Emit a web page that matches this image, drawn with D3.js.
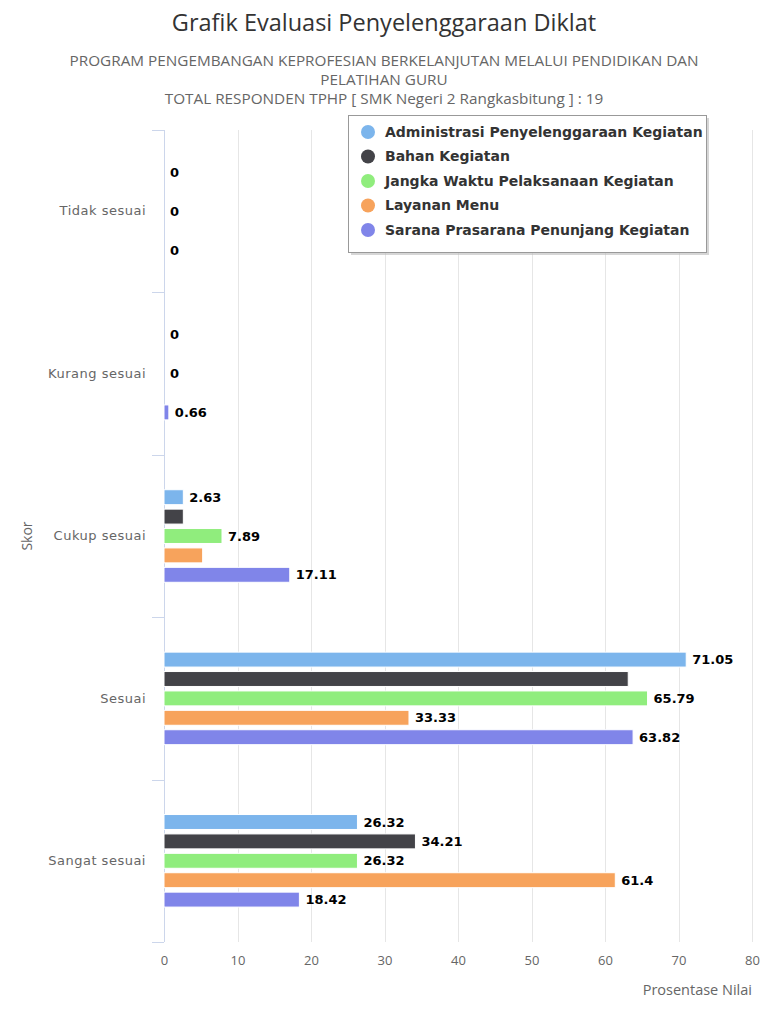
<!DOCTYPE html>
<html>
<head>
<meta charset="utf-8">
<script src="https://cdn.jsdelivr.net/npm/d3@7"></script>
<style>
  body { margin: 0; background: #fff; }
  svg { display: block; }
</style>
</head>
<body>
<div id="main-container"></div>
<script>
const WIDTH = 768;
const HEIGHT = 1024;
const TITLE = 'Grafik Evaluasi Penyelenggaraan Diklat';
const SUB_TITLE = [
  'PROGRAM PENGEMBANGAN KEPROFESIAN BERKELANJUTAN MELALUI PENDIDIKAN DAN',
  'PELATIHAN GURU',
  'TOTAL RESPONDEN TPHP [ SMK Negeri 2 Rangkasbitung ] : 19'
];

// categories (y axis) and series
const CATEGORIES = ['Tidak sesuai', 'Kurang sesuai', 'Cukup sesuai', 'Sesuai', 'Sangat sesuai'];
const SERIES_NAMES = [
  'Administrasi Penyelenggaraan Kegiatan',
  'Bahan Kegiatan',
  'Jangka Waktu Pelaksanaan Kegiatan',
  'Layanan Menu',
  'Sarana Prasarana Penunjang Kegiatan'
];
const SERIES_COLORS = ['#7cb5ec', '#434348', '#90ed7d', '#f7a35c', '#8085e9'];

// values per series, in category order
const ADMINISTRASI = [0, 0, 2.63, 71.05, 26.32];
const BAHAN = [0, 0, 2.63, 63.16, 34.21];
const JANGKA_WAKTU = [0, 0, 7.89, 65.79, 26.32];
const LAYANAN_MENU = [0, 0, 5.26, 33.33, 61.4];
const SARANA = [0, 0.66, 17.11, 63.82, 18.42];
const SERIES_VALUES = [ADMINISTRASI, BAHAN, JANGKA_WAKTU, LAYANAN_MENU, SARANA];

const X_TICKS = [0, 10, 20, 30, 40, 50, 60, 70, 80];
const X_TITLE = 'Prosentase Nilai';
const Y_TITLE = 'Skor';

const PLOT = { left: 164, right: 752, top: 130, bottom: 942 };
const LABEL_FONT = '"DejaVu Sans", sans-serif';
const TEXT_FONT = '"Open Sans", sans-serif';

const X_SCALE = d3.scaleLinear()
  .domain([0, 80])
  .range([PLOT.left, PLOT.right]);

const Y_SCALE = d3.scaleBand()
  .domain(CATEGORIES)
  .range([PLOT.top, PLOT.bottom]);

const INNER_SCALE = d3.scaleBand()
  .domain(SERIES_NAMES)
  .range([0, Y_SCALE.bandwidth()])
  .paddingInner(0.23)
  .paddingOuter(1.8);

const SVG = d3.select('#main-container')
  .append('svg')
  .attr('width', WIDTH)
  .attr('height', HEIGHT);

// Title
SVG.append('text')
  .attr('x', WIDTH / 2)
  .attr('y', 31)
  .attr('text-anchor', 'middle')
  .style('font-family', TEXT_FONT)
  .style('font-size', '23.5px')
  .style('fill', '#333')
  .text(TITLE);

// Sub title
SVG.append('g')
  .selectAll('text')
  .data(SUB_TITLE)
  .enter()
  .append('text')
  .attr('x', WIDTH / 2)
  .attr('y', (_, i) => 66 + i * 19)
  .attr('text-anchor', 'middle')
  .style('font-family', TEXT_FONT)
  .style('font-size', '15.3px')
  .style('fill', '#666')
  .text(d => d);

// grid lines
SVG.append('g')
  .selectAll('line')
  .data(X_TICKS.slice(1))
  .enter()
  .append('line')
  .attr('x1', d => Math.round(X_SCALE(d)) + 0.5)
  .attr('x2', d => Math.round(X_SCALE(d)) + 0.5)
  .attr('y1', PLOT.top)
  .attr('y2', PLOT.bottom)
  .attr('stroke', '#e6e6e6')
  .attr('stroke-width', 1);

// x axis labels
const X_AXIS = d3.axisBottom(X_SCALE).tickValues(X_TICKS).tickSize(0).tickPadding(14);
const xAxisG = SVG.append('g')
  .attr('transform', `translate(0, ${PLOT.bottom})`)
  .call(X_AXIS);
xAxisG.select('.domain').remove();
xAxisG.selectAll('text')
  .style('font-family', TEXT_FONT)
  .style('font-size', '13px')
  .style('fill', '#666');

SVG.append('text')
  .attr('x', PLOT.right)
  .attr('y', 995)
  .attr('text-anchor', 'end')
  .style('font-family', TEXT_FONT)
  .style('font-size', '14.5px')
  .style('fill', '#666')
  .text(X_TITLE);

// y axis
const Y_AXIS = d3.axisLeft(Y_SCALE).tickSize(0).tickPadding(18);
const yAxisG = SVG.append('g')
  .attr('transform', `translate(${PLOT.left}, 0)`)
  .call(Y_AXIS);
yAxisG.select('.domain').remove();
yAxisG.selectAll('text')
  .style('font-family', LABEL_FONT)
  .style('font-size', '13px')
  .style('letter-spacing', '0.5px')
  .style('fill', '#666');

// category boundary ticks
const boundaries = CATEGORIES.map(c => Y_SCALE(c)).concat([PLOT.bottom]);
SVG.append('g')
  .selectAll('line')
  .data(boundaries)
  .enter()
  .append('line')
  .attr('x1', PLOT.left - 12)
  .attr('x2', PLOT.left)
  .attr('y1', d => Math.round(d) + 0.5)
  .attr('y2', d => Math.round(d) + 0.5)
  .attr('stroke', '#ccd6eb');

SVG.append('line')
  .attr('x1', PLOT.left + 0.5)
  .attr('x2', PLOT.left + 0.5)
  .attr('y1', PLOT.top)
  .attr('y2', PLOT.bottom)
  .attr('stroke', '#ccd6eb');

SVG.append('text')
  .attr('transform', `translate(32, ${(PLOT.top + PLOT.bottom) / 2}) rotate(-90)`)
  .attr('text-anchor', 'middle')
  .style('font-family', TEXT_FONT)
  .style('font-size', '14px')
  .style('fill', '#666')
  .text(Y_TITLE);

// bars
const POINTS = [];
SERIES_VALUES.forEach((vals, s) => {
  vals.forEach((v, c) => {
    POINTS.push({ series: s, cat: c, value: v });
  });
});

const barY = d => Y_SCALE(CATEGORIES[d.cat]) + INNER_SCALE(SERIES_NAMES[d.series]);

SVG.append('g')
  .selectAll('rect')
  .data(POINTS)
  .enter()
  .append('rect')
  .attr('x', PLOT.left)
  .attr('y', barY)
  .attr('width', d => X_SCALE(d.value) - X_SCALE(0))
  .attr('height', INNER_SCALE.bandwidth())
  .attr('fill', d => SERIES_COLORS[d.series])
  .attr('stroke', '#fff')
  .attr('stroke-width', 1);

// data labels, overlapping ones hidden (larger values placed first)
const labels = SVG.append('g')
  .selectAll('text')
  .data(POINTS)
  .enter()
  .append('text')
  .attr('x', d => X_SCALE(d.value) + 6)
  .attr('y', d => barY(d) + INNER_SCALE.bandwidth() / 2)
  .attr('dy', '0.35em')
  .style('font-family', LABEL_FONT)
  .style('font-size', '13px')
  .style('font-weight', 'bold')
  .style('fill', '#000')
  .text(d => d.value);

labels.each(function (d) {
  const b = this.getBBox();
  d.box = { x: b.x - 4, y: b.y - 4, w: b.width + 8, h: b.height + 8 };
});
const placed = [];
POINTS.slice()
  .sort((a, b) => (b.value - a.value) || (a.series - b.series))
  .forEach(p => {
    const hit = placed.some(q => p.box.x < q.x + q.w && q.x < p.box.x + p.box.w &&
                                 p.box.y < q.y + q.h && q.y < p.box.y + p.box.h);
    p.hidden = hit;
    if (!hit) placed.push(p.box);
  });
labels.style('display', d => d.hidden ? 'none' : null);

// legend
const LEGEND = { x: 348, y: 115, w: 358, h: 137 };
const legendG = SVG.append('g');
legendG.append('rect')
  .attr('x', LEGEND.x + 3)
  .attr('y', LEGEND.y + 3)
  .attr('width', LEGEND.w)
  .attr('height', LEGEND.h)
  .attr('fill', '#bbb')
  .attr('opacity', 0.6);
legendG.append('rect')
  .attr('x', LEGEND.x + 0.5)
  .attr('y', LEGEND.y + 0.5)
  .attr('width', LEGEND.w)
  .attr('height', LEGEND.h)
  .attr('fill', '#fff')
  .attr('stroke', '#999')
  .attr('stroke-width', 1);

const items = legendG.selectAll('g.item')
  .data(SERIES_NAMES)
  .enter()
  .append('g')
  .attr('class', 'item')
  .attr('transform', (_, i) => `translate(${LEGEND.x + 20}, ${LEGEND.y + 17 + i * 24.5})`);
items.append('circle')
  .attr('r', 7)
  .attr('fill', (_, i) => SERIES_COLORS[i]);
items.append('text')
  .attr('x', 17)
  .attr('dy', '0.35em')
  .style('font-family', LABEL_FONT)
  .style('font-size', '14px')
  .style('font-weight', 'bold')
  .style('fill', '#333')
  .text(d => d);
</script>
</body>
</html>
